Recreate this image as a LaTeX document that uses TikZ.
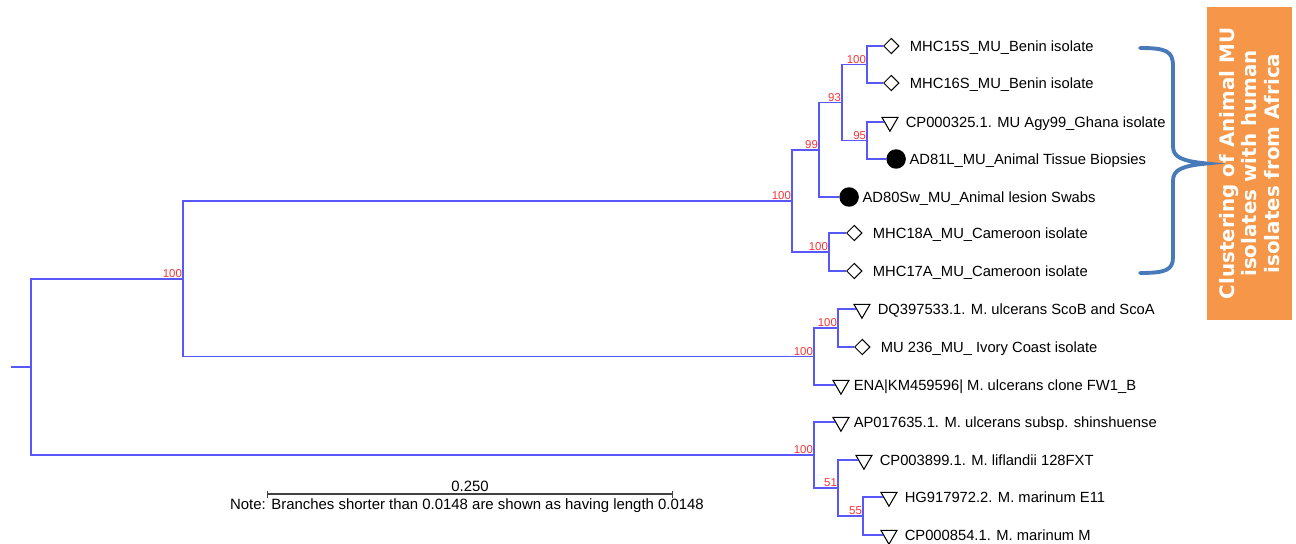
\documentclass[tikz,border=0pt]{standalone}
\usepackage{fontspec}
\setmainfont{Liberation Sans}
\newfontfamily\boxfont{DejaVu Sans}
\usepackage{tikz}
\usetikzlibrary{arrows.meta,positioning,shapes.geometric}
\definecolor{treeblue}{RGB}{88,88,250}
\definecolor{bootred}{RGB}{250,50,50}
\definecolor{bracketblue}{RGB}{72,122,186}
\definecolor{clusterorange}{RGB}{246,150,72}

\begin{document}
\begin{tikzpicture}[
    x=0.02cm,
    y=-0.02cm,
    >=Latex,
    branch/.style={
        draw=treeblue,
        line width=1pt
    },
    boot/.style={
        anchor=south east,
        inner sep=0.4pt,
        text=bootred,
        font=\fontsize{6.5}{7}\selectfont
    },
    dia/.style={
        diamond,
        draw=black,
        line width=0.6pt,
        inner sep=0pt,
        minimum size=0.31cm,
        anchor=west
    },
    tri/.style={
        regular polygon,
        regular polygon sides=3,
        shape border rotate=180,
        draw=black,
        line width=0.6pt,
        inner sep=0pt,
        minimum size=0.37cm,
        anchor=west
    },
    dot/.style={
        circle,
        fill=black,
        inner sep=0pt,
        minimum size=0.39cm,
        anchor=west
    },
    leaf/.style={
        anchor=west,
        inner sep=0pt,
        text height=6pt,
        text depth=0pt,
        font=\fontsize{8.4}{10}\selectfont
    },
    note/.style={
        inner sep=0pt,
        font=\fontsize{8.5}{10}\selectfont
    },
    bracket/.style={
        draw=bracketblue,
        line width=2.2pt,
        line cap=round
    },
    clusterbox/.style={
        rotate=90,
        fill=clusterorange,
        text=white,
        minimum width=6.26cm,
        minimum height=1.7cm,
        inner sep=0pt,
        align=center,
        font=\boxfont\bfseries\fontsize{11.3}{12.6}\selectfont
    }
]

\useasboundingbox (0,0) rectangle (1296,544);

\node[dia] (m1) at (883,46) {};
\node[leaf,right=0.2cm of m1] (t1) {MHC15S\_MU\_Benin isolate};

\node[dia] (m2) at (883,83) {};
\node[leaf,right=0.2cm of m2] (t2) {MHC16S\_MU\_Benin isolate};

\node[tri] (m3) at (884,122) {};
\node[leaf,right=0.19cm of m3] (t3) {CP000325.1. MU Agy99\_Ghana isolate};

\node[dot] (m4) at (886,159) {};
\node[leaf,right=0.06cm of m4] (t4) {AD81L\_MU\_Animal Tissue Biopsies};

\node[dot] (m5) at (839,197) {};
\node[leaf,right=0.06cm of m5] (t5) {AD80Sw\_MU\_Animal lesion Swabs};

\node[dia] (m6) at (846,233) {};
\node[leaf,right=0.2cm of m6] (t6) {MHC18A\_MU\_Cameroon isolate};

\node[dia] (m7) at (846,271) {};
\node[leaf,right=0.2cm of m7] (t7) {MHC17A\_MU\_Cameroon isolate};

\node[tri] (m8) at (856,309) {};
\node[leaf,right=0.19cm of m8] (t8) {DQ397533.1. M. ulcerans ScoB and ScoA};

\node[dia] (m9) at (854,347) {};
\node[leaf,right=0.2cm of m9] (t9) {MU 236\_MU\_ Ivory Coast isolate};

\node[tri] (m10) at (835,385) {};
\node[leaf,right=0.13cm of m10] (t10) {ENA|KM459596| M. ulcerans clone FW1\_B};

\node[tri] (m11) at (835,422) {};
\node[leaf,right=0.13cm of m11] (t11) {AP017635.1. M. ulcerans subsp. shinshuense};

\node[tri] (m12) at (858,460) {};
\node[leaf,right=0.19cm of m12] (t12) {CP003899.1. M. liflandii 128FXT};

\node[tri] (m13) at (883,497) {};
\node[leaf,right=0.19cm of m13] (t13) {HG917972.2. M. marinum E11};

\node[tri] (m14) at (883,535) {};
\node[leaf,right=0.19cm of m14] (t14) {CP000854.1. M. marinum M};

\coordinate (stub) at (11,367);
\coordinate (root) at (31,367);
\coordinate (A) at (183,278.75);
\coordinate (B) at (792,201);
\coordinate (C) at (819,150);
\coordinate (D) at (842,102.5);
\coordinate (E) at (867,64.5);
\coordinate (F) at (867,140.5);
\coordinate (G) at (829,252);
\coordinate (H) at (814,356.5);
\coordinate (I) at (838,328);
\coordinate (J) at (814,455);
\coordinate (K) at (838,488);
\coordinate (L) at (863,516);

\draw[branch] (stub)--(root);
\draw[branch] (root) |- (A);
\draw[branch] (root) |- (J);
\draw[branch] (A) |- (B);
\draw[branch] (A) |- (H);
\draw[branch] (B) |- (C);
\draw[branch] (B) |- (G);
\draw[branch] (C) |- (D);
\draw[branch] (C) |- (m5.west);
\draw[branch] (D) |- (E);
\draw[branch] (D) |- (F);
\draw[branch] (E) |- (m1.west);
\draw[branch] (E) |- (m2.west);
\draw[branch] (F) |- (m3.west);
\draw[branch] (F) |- (m4.west);
\draw[branch] (G) |- (m6.west);
\draw[branch] (G) |- (m7.west);
\draw[branch] (H) |- (I);
\draw[branch] (H) |- (m10.west);
\draw[branch] (I) |- (m8.west);
\draw[branch] (I) |- (m9.west);
\draw[branch] (J) |- (m11.west);
\draw[branch] (J) |- (K);
\draw[branch] (K) |- (m12.west);
\draw[branch] (K) |- (L);
\draw[branch] (L) |- (m13.west);
\draw[branch] (L) |- (m14.west);

\node[boot] (bA) at (A) {100};
\node[boot] (bB) at (B) {100};
\node[boot] (bC) at (C) {99};
\node[boot] (bD) at (D) {93};
\node[boot] (bE) at (E) {100};
\node[boot] (bF) at (F) {95};
\node[boot] (bG) at (G) {100};
\node[boot] (bH) at (H) {100};
\node[boot] (bI) at (I) {100};
\node[boot] (bJ) at (J) {100};
\node[boot] (bK) at (K) {51};
\node[boot] (bL) at (L) {55};

\coordinate (sbL) at (267,494);
\coordinate (sbR) at (673,494);
\draw[{Bar[width=0.14cm]}-{Bar[width=0.14cm]},line width=0.8pt,black!75] (sbL)--(sbR);
\node[note] (scale) at (470,486) {0.250};
\node[note] (remark) at (467,506)
{Note: Branches shorter than 0.0148 are shown as having length 0.0148};

\node[clusterbox] (cluster) at (1249.5,163.5)
{Clustering of Animal MU\\isolates with human\\isolates from Africa};

\draw[bracket] (1140,48) .. controls (1166,48) and (1173,51) .. (1173,66)
    -- (1173,146) .. controls (1173,157) and (1181,161) .. (cluster.north)
    .. controls (1181,166) and (1173,170) .. (1173,181)
    -- (1173,257) .. controls (1173,270) and (1166,273) .. (1140,273);

\end{tikzpicture}
\end{document}
